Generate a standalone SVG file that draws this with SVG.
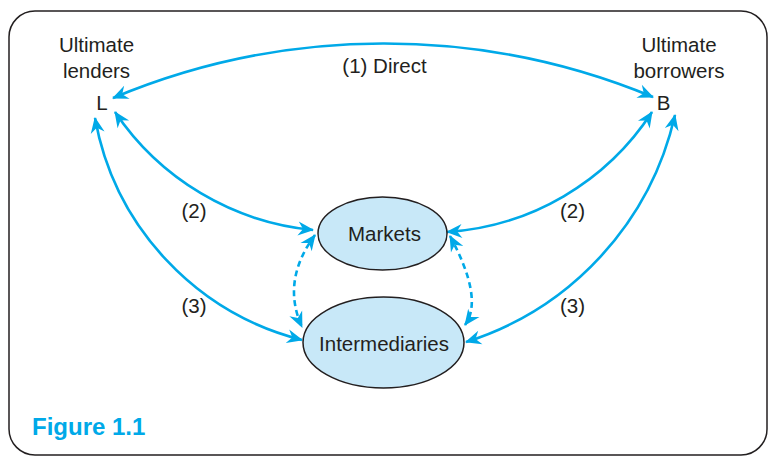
<svg xmlns="http://www.w3.org/2000/svg" width="770" height="456" viewBox="0 0 770 456">
  <style>
    .lbl { font-family: "Liberation Sans", Arial, sans-serif; font-size: 20.5px; fill: #231f20; text-anchor: middle; }
    .flow { fill: none; stroke: #00a9e8; stroke-width: 2.6; marker-start: url(#head); marker-end: url(#head); }
    .dash { stroke-dasharray: 6 4; }
    .node { fill: #c8e8f8; stroke: #231f20; stroke-width: 1.5; }
    .fig { font-family: "Liberation Sans", Arial, sans-serif; font-size: 24px; font-weight: bold; fill: #00a9e8; }
  </style>
  <defs>
    <marker id="head" viewBox="-17 -8 19 16" refX="0" refY="0" markerWidth="19" markerHeight="16" markerUnits="userSpaceOnUse" orient="auto-start-reverse">
      <path d="M1,0 L-15,-7 L-10,0 L-15,7 Z" fill="#00a9e8"/>
    </marker>
  </defs>

  <!-- frame -->
  <rect x="9" y="11" width="758" height="444" rx="26" ry="26" fill="#ffffff" stroke="#231f20" stroke-width="1.5"/>

  <!-- connectors -->
  <g id="connectors">
    <path id="direct" class="flow" d="M113,98 A702,702 0 0 1 653,97"/>
    <path id="l-markets" class="flow" d="M115,112 A270,270 0 0 0 313,230"/>
    <path id="l-intermediaries" class="flow" d="M95,118 A280,280 0 0 0 302,340"/>
    <path id="b-markets" class="flow" d="M652,112 A265,265 0 0 1 447,232"/>
    <path id="b-intermediaries" class="flow" d="M675,115 A310,310 0 0 1 466,342"/>
    <path id="markets-intermediaries-left" class="flow dash" d="M315,235 Q281,281 302,327"/>
    <path id="markets-intermediaries-right" class="flow dash" d="M450,236 Q484,299 465,325"/>
  </g>

  <!-- connector labels -->
  <g id="labels">
    <text class="lbl" x="384.5" y="73">(1) Direct</text>
    <text class="lbl" x="194" y="218">(2)</text>
    <text class="lbl" x="572.5" y="218">(2)</text>
    <text class="lbl" x="194" y="313">(3)</text>
    <text class="lbl" x="572.5" y="313">(3)</text>
  </g>

  <g id="lenders">
    <text class="lbl" x="96.5" y="52">Ultimate</text>
    <text class="lbl" x="96.5" y="78">lenders</text>
    <text class="lbl" x="102" y="110">L</text>
  </g>

  <g id="borrowers">
    <text class="lbl" x="679" y="52">Ultimate</text>
    <text class="lbl" x="679" y="78">borrowers</text>
    <text class="lbl" x="663.5" y="110">B</text>
  </g>

  <g id="markets">
    <ellipse class="node" cx="382.5" cy="233.5" rx="64.5" ry="36.5"/>
    <text class="lbl" x="384.5" y="241">Markets</text>
  </g>

  <g id="intermediaries">
    <ellipse class="node" cx="383.5" cy="342.5" rx="80.5" ry="45.5"/>
    <text class="lbl" x="384" y="351">Intermediaries</text>
  </g>

  <text class="fig" x="32" y="435">Figure 1.1</text>
</svg>
